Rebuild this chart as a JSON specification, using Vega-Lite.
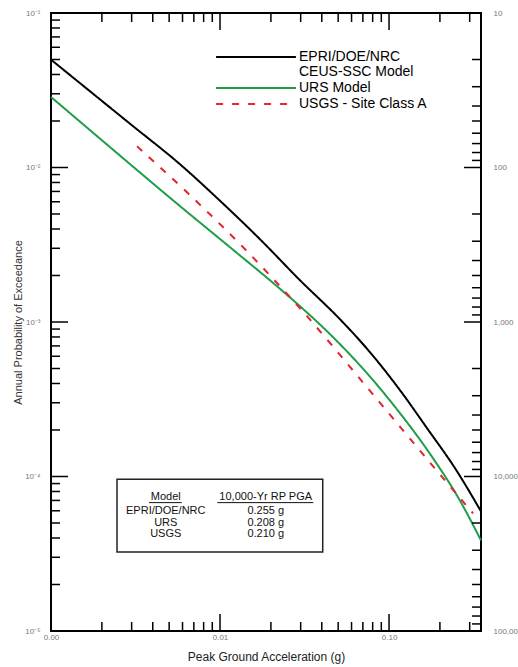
{
  "$schema": "https://vega.github.io/schema/vega-lite/v6.json",
  "width": 430,
  "height": 618,
  "autosize": "none",
  "padding": {"left": 51, "top": 13, "right": 37, "bottom": 36},
  "background": "white",
  "config": {
    "view": {"stroke": "black", "strokeWidth": 2},
    "font": "Liberation Sans",
    "style": {"guide-label": {"lineHeight": 15}},
    "axis": {"grid": false, "domain": false, "ticks": false, "tickSize": 0, "labelColor": "#777777", "labelFontSize": 8, "labelFont": "Liberation Sans", "labelFlush": false, "labelOverlap": false, "titleFont": "Liberation Sans", "titleFontWeight": "normal"}
  },
  "datasets": {
    "curves": [
      {"series": "EPRI/DOE/NRC CEUS-SSC Model", "pga": 0.001, "prob": 0.0499},
      {"series": "EPRI/DOE/NRC CEUS-SSC Model", "pga": 0.002934, "prob": 0.0192},
      {"series": "EPRI/DOE/NRC CEUS-SSC Model", "pga": 0.005799, "prob": 0.01049},
      {"series": "EPRI/DOE/NRC CEUS-SSC Model", "pga": 0.01, "prob": 0.006088},
      {"series": "EPRI/DOE/NRC CEUS-SSC Model", "pga": 0.01725, "prob": 0.00343},
      {"series": "EPRI/DOE/NRC CEUS-SSC Model", "pga": 0.02974, "prob": 0.001862},
      {"series": "EPRI/DOE/NRC CEUS-SSC Model", "pga": 0.05129, "prob": 0.001041},
      {"series": "EPRI/DOE/NRC CEUS-SSC Model", "pga": 0.0741, "prob": 0.000671},
      {"series": "EPRI/DOE/NRC CEUS-SSC Model", "pga": 0.1162, "prob": 0.0003614},
      {"series": "EPRI/DOE/NRC CEUS-SSC Model", "pga": 0.168, "prob": 0.0002051},
      {"series": "EPRI/DOE/NRC CEUS-SSC Model", "pga": 0.2458, "prob": 0.000113},
      {"series": "EPRI/DOE/NRC CEUS-SSC Model", "pga": 0.35, "prob": 0.0000595},
      {"series": "URS Model", "pga": 0.001, "prob": 0.0286},
      {"series": "URS Model", "pga": 0.00223, "prob": 0.01357},
      {"series": "URS Model", "pga": 0.00527, "prob": 0.006133},
      {"series": "URS Model", "pga": 0.01146, "prob": 0.003045},
      {"series": "URS Model", "pga": 0.02175, "prob": 0.001702},
      {"series": "URS Model", "pga": 0.02974, "prob": 0.001264},
      {"series": "URS Model", "pga": 0.04296, "prob": 0.000871},
      {"series": "URS Model", "pga": 0.0741, "prob": 0.0004656},
      {"series": "URS Model", "pga": 0.1162, "prob": 0.0002565},
      {"series": "URS Model", "pga": 0.1822, "prob": 0.0001311},
      {"series": "URS Model", "pga": 0.2561, "prob": 0.0000733},
      {"series": "URS Model", "pga": 0.35, "prob": 0.0000386},
      {"series": "USGS - Site Class A", "pga": 0.003228, "prob": 0.01372},
      {"series": "USGS - Site Class A", "pga": 0.006467, "prob": 0.006808},
      {"series": "USGS - Site Class A", "pga": 0.01445, "prob": 0.002868},
      {"series": "USGS - Site Class A", "pga": 0.02974, "prob": 0.001227},
      {"series": "USGS - Site Class A", "pga": 0.0741, "prob": 0.0003779},
      {"series": "USGS - Site Class A", "pga": 0.1162, "prob": 0.0002097},
      {"series": "USGS - Site Class A", "pga": 0.1822, "prob": 0.0001164},
      {"series": "USGS - Site Class A", "pga": 0.3141, "prob": 0.0000578}
    ],
    "table": [
      {"model": "EPRI/DOE/NRC", "pga": "0.255 g"},
      {"model": "URS", "pga": "0.208 g"},
      {"model": "USGS", "pga": "0.210 g"}
    ],
    "xticks": [
      {"v": 0.001, "kind": "major"}, {"v": 0.002, "kind": "minor"}, {"v": 0.003, "kind": "minor"}, {"v": 0.004, "kind": "minor"}, {"v": 0.005, "kind": "minor"}, {"v": 0.006, "kind": "minor"}, {"v": 0.007, "kind": "minor"}, {"v": 0.008, "kind": "minor"}, {"v": 0.009, "kind": "minor"},
      {"v": 0.01, "kind": "major"}, {"v": 0.02, "kind": "minor"}, {"v": 0.03, "kind": "minor"}, {"v": 0.04, "kind": "minor"}, {"v": 0.05, "kind": "minor"}, {"v": 0.06, "kind": "minor"}, {"v": 0.07, "kind": "minor"}, {"v": 0.08, "kind": "minor"}, {"v": 0.09, "kind": "minor"},
      {"v": 0.1, "kind": "major"}, {"v": 0.2, "kind": "minor"}, {"v": 0.3, "kind": "minor"}
    ],
    "yticks": [
      {"v": 0.00001, "kind": "major"}, {"v": 0.00002, "kind": "minor"}, {"v": 0.00003, "kind": "minor"}, {"v": 0.00004, "kind": "minor"}, {"v": 0.00005, "kind": "minor"}, {"v": 0.00006, "kind": "minor"}, {"v": 0.00007, "kind": "minor"}, {"v": 0.00008, "kind": "minor"}, {"v": 0.00009, "kind": "minor"},
      {"v": 0.0001, "kind": "major"}, {"v": 0.0002, "kind": "minor"}, {"v": 0.0003, "kind": "minor"}, {"v": 0.0004, "kind": "minor"}, {"v": 0.0005, "kind": "minor"}, {"v": 0.0006, "kind": "minor"}, {"v": 0.0007, "kind": "minor"}, {"v": 0.0008, "kind": "minor"}, {"v": 0.0009, "kind": "minor"},
      {"v": 0.001, "kind": "major"}, {"v": 0.002, "kind": "minor"}, {"v": 0.003, "kind": "minor"}, {"v": 0.004, "kind": "minor"}, {"v": 0.005, "kind": "minor"}, {"v": 0.006, "kind": "minor"}, {"v": 0.007, "kind": "minor"}, {"v": 0.008, "kind": "minor"}, {"v": 0.009, "kind": "minor"},
      {"v": 0.01, "kind": "major"}, {"v": 0.02, "kind": "minor"}, {"v": 0.03, "kind": "minor"}, {"v": 0.04, "kind": "minor"}, {"v": 0.05, "kind": "minor"}, {"v": 0.06, "kind": "minor"}, {"v": 0.07, "kind": "minor"}, {"v": 0.08, "kind": "minor"}, {"v": 0.09, "kind": "minor"},
      {"v": 0.1, "kind": "major"}
    ],
    "rpticks": [
      {"rp": 10, "p": 0.1, "kind": "major"}, {"rp": 20, "p": 0.05, "kind": "minor"}, {"rp": 30, "p": 0.0333333, "kind": "minor"}, {"rp": 40, "p": 0.025, "kind": "minor"}, {"rp": 50, "p": 0.02, "kind": "minor"}, {"rp": 60, "p": 0.0166667, "kind": "minor"}, {"rp": 70, "p": 0.0142857, "kind": "minor"}, {"rp": 80, "p": 0.0125, "kind": "minor"}, {"rp": 90, "p": 0.0111111, "kind": "minor"},
      {"rp": 100, "p": 0.01, "kind": "major"}, {"rp": 200, "p": 0.005, "kind": "minor"}, {"rp": 300, "p": 0.00333333, "kind": "minor"}, {"rp": 400, "p": 0.0025, "kind": "minor"}, {"rp": 500, "p": 0.002, "kind": "minor"}, {"rp": 600, "p": 0.00166667, "kind": "minor"}, {"rp": 700, "p": 0.00142857, "kind": "minor"}, {"rp": 800, "p": 0.00125, "kind": "minor"}, {"rp": 900, "p": 0.00111111, "kind": "minor"},
      {"rp": 1000, "p": 0.001, "kind": "major"}, {"rp": 2000, "p": 0.0005, "kind": "minor"}, {"rp": 3000, "p": 0.000333333, "kind": "minor"}, {"rp": 4000, "p": 0.00025, "kind": "minor"}, {"rp": 5000, "p": 0.0002, "kind": "minor"}, {"rp": 6000, "p": 0.000166667, "kind": "minor"}, {"rp": 7000, "p": 0.000142857, "kind": "minor"}, {"rp": 8000, "p": 0.000125, "kind": "minor"}, {"rp": 9000, "p": 0.000111111, "kind": "minor"},
      {"rp": 10000, "p": 0.0001, "kind": "major"}, {"rp": 20000, "p": 0.00005, "kind": "minor"}, {"rp": 30000, "p": 0.0000333333, "kind": "minor"}, {"rp": 40000, "p": 0.000025, "kind": "minor"}, {"rp": 50000, "p": 0.00002, "kind": "minor"}, {"rp": 60000, "p": 0.0000166667, "kind": "minor"}, {"rp": 70000, "p": 0.0000142857, "kind": "minor"}, {"rp": 80000, "p": 0.0000125, "kind": "minor"}, {"rp": 90000, "p": 0.0000111111, "kind": "minor"},
      {"rp": 100000, "p": 0.00001, "kind": "major"}
    ],
    "rp": [{"rp": 10}, {"rp": 100000}]
  },
  "layer": [
    {
      "layer": [
        {
          "data": {"name": "curves"},
          "mark": {"type": "line", "interpolate": "monotone", "strokeWidth": 2},
          "encoding": {
            "x": {
              "field": "pga", "type": "quantitative",
              "scale": {"type": "log", "domain": [0.001, 0.35], "nice": false},
              "axis": {
                "orient": "bottom",
                "values": [0.001, 0.01, 0.1],
                "labelExpr": "format(datum.value, '.2f')",
                "labelPadding": 2,
                "title": "Peak Ground Acceleration (g)",
                "titleFontSize": 12, "titleColor": "#222222", "titleY": 25, "titleBaseline": "middle"
              }
            },
            "y": {
              "field": "prob", "type": "quantitative",
              "scale": {"type": "log", "domain": [0.00001, 0.1], "nice": false},
              "axis": {
                "orient": "left",
                "values": [0.00001, 0.0001, 0.001, 0.01, 0.1],
                "labelExpr": "datum.value == 0.1 ? '10⁻¹' : datum.value == 0.01 ? '10⁻²' : datum.value == 0.001 ? '10⁻³' : datum.value == 0.0001 ? '10⁻⁴' : '10⁻⁵'",
                "labelPadding": 11,
                "title": "Annual Probability of Exceedance",
                "titleFontSize": 11, "titleColor": "#333333", "titleX": -33, "titleBaseline": "middle"
              }
            },
            "color": {
              "field": "series", "type": "nominal",
              "scale": {"domain": ["EPRI/DOE/NRC CEUS-SSC Model", "URS Model", "USGS - Site Class A"], "range": ["#000000", "#1f9d48", "#e3242b"]},
              "legend": {"title": null, "orient": "none", "legendX": 165, "legendY": 36, "padding": 0, "symbolType": "M-5.7,0H5.7", "symbolSize": 196, "symbolStrokeWidth": 2, "symbolOffset": 32, "labelOffset": 35, "labelFont": "Liberation Sans", "labelFontSize": 14, "labelColor": "#000000", "labelLimit": 300, "rowPadding": 1, "labelExpr": "datum.label == 'EPRI/DOE/NRC CEUS-SSC Model' ? ['EPRI/DOE/NRC', 'CEUS-SSC Model'] : datum.label"}
            },
            "strokeDash": {
              "field": "series", "type": "nominal",
              "scale": {"domain": ["EPRI/DOE/NRC CEUS-SSC Model", "URS Model", "USGS - Site Class A"], "range": [[1, 0], [1, 0], [7, 9]]},
              "legend": {"title": null, "orient": "none", "legendX": 165, "legendY": 36, "padding": 0, "symbolType": "M-5.7,0H5.7", "symbolSize": 196, "symbolStrokeWidth": 2, "symbolOffset": 32, "labelOffset": 35, "labelFont": "Liberation Sans", "labelFontSize": 14, "labelColor": "#000000", "labelLimit": 300, "rowPadding": 1, "labelExpr": "datum.label == 'EPRI/DOE/NRC CEUS-SSC Model' ? ['EPRI/DOE/NRC', 'CEUS-SSC Model'] : datum.label"}
            }
          }
        },
        {
          "data": {"name": "xticks"},
          "transform": [{"filter": "datum.kind == 'minor'"}],
          "mark": {"type": "rule", "color": "black", "strokeWidth": 1.5},
          "encoding": {
            "x": {"field": "v", "type": "quantitative", "title": "Peak Ground Acceleration (g)"},
            "y": {"datum": 0.00001, "type": "quantitative"},
            "y2": {"datum": 0.000011437}
          }
        },
        {
          "data": {"name": "xticks"},
          "transform": [{"filter": "datum.kind == 'major'"}],
          "mark": {"type": "rule", "color": "black", "strokeWidth": 1.5},
          "encoding": {
            "x": {"field": "v", "type": "quantitative", "title": "Peak Ground Acceleration (g)"},
            "y": {"datum": 0.00001, "type": "quantitative"},
            "y2": {"datum": 0.000012884}
          }
        },
        {
          "data": {"name": "xticks"},
          "transform": [{"filter": "datum.kind == 'minor'"}],
          "mark": {"type": "rule", "color": "black", "strokeWidth": 1.5},
          "encoding": {
            "x": {"field": "v", "type": "quantitative", "title": "Peak Ground Acceleration (g)"},
            "y": {"datum": 0.1, "type": "quantitative"},
            "y2": {"datum": 0.08744}
          }
        },
        {
          "data": {"name": "xticks"},
          "transform": [{"filter": "datum.kind == 'major'"}],
          "mark": {"type": "rule", "color": "black", "strokeWidth": 1.5},
          "encoding": {
            "x": {"field": "v", "type": "quantitative", "title": "Peak Ground Acceleration (g)"},
            "y": {"datum": 0.1, "type": "quantitative"},
            "y2": {"datum": 0.07762}
          }
        },
        {
          "data": {"name": "yticks"},
          "transform": [{"filter": "datum.kind == 'minor'"}],
          "mark": {"type": "rule", "color": "black", "strokeWidth": 1.5},
          "encoding": {
            "y": {"field": "v", "type": "quantitative", "title": "Annual Probability of Exceedance"},
            "x": {"datum": 0.001, "type": "quantitative"},
            "x2": {"datum": 0.0011304}
          }
        },
        {
          "data": {"name": "yticks"},
          "transform": [{"filter": "datum.kind == 'major'"}],
          "mark": {"type": "rule", "color": "black", "strokeWidth": 1.5},
          "encoding": {
            "y": {"field": "v", "type": "quantitative", "title": "Annual Probability of Exceedance"},
            "x": {"datum": 0.001, "type": "quantitative"},
            "x2": {"datum": 0.0012606}
          }
        },
        {
          "data": {"name": "rpticks"},
          "transform": [{"filter": "datum.kind == 'minor'"}],
          "mark": {"type": "rule", "color": "black", "strokeWidth": 1.5},
          "encoding": {
            "y": {"field": "p", "type": "quantitative", "title": "Annual Probability of Exceedance"},
            "x": {"datum": 0.35, "type": "quantitative"},
            "x2": {"datum": 0.30963}
          }
        },
        {
          "data": {"name": "rpticks"},
          "transform": [{"filter": "datum.kind == 'major'"}],
          "mark": {"type": "rule", "color": "black", "strokeWidth": 1.5},
          "encoding": {
            "y": {"field": "p", "type": "quantitative", "title": "Annual Probability of Exceedance"},
            "x": {"datum": 0.35, "type": "quantitative"},
            "x2": {"datum": 0.27765}
          }
        },
        {
          "data": {"values": [{}]},
          "mark": {"type": "rect", "fill": "white", "stroke": "#222222", "strokeWidth": 1.5},
          "encoding": {
            "x": {"datum": 0.002458, "type": "quantitative"},
            "x2": {"datum": 0.04052},
            "y": {"datum": 0.0000959, "type": "quantitative"},
            "y2": {"datum": 0.00003245}
          }
        },
        {
          "data": {"values": [{}]},
          "mark": {"type": "text", "text": "Model", "fontSize": 11, "color": "#111111", "align": "center", "baseline": "middle"},
          "encoding": {
            "x": {"datum": 0.004774, "type": "quantitative"},
            "y": {"datum": 0.0000733, "type": "quantitative"}
          }
        },
        {
          "data": {"values": [{}]},
          "mark": {"type": "text", "text": "10,000-Yr RP PGA", "fontSize": 11, "color": "#111111", "align": "center", "baseline": "middle"},
          "encoding": {
            "x": {"datum": 0.01864, "type": "quantitative"},
            "y": {"datum": 0.0000733, "type": "quantitative"}
          }
        },
        {
          "data": {"values": [{}]},
          "mark": {"type": "rule", "color": "#111111", "strokeWidth": 1},
          "encoding": {
            "x": {"datum": 0.003801, "type": "quantitative"},
            "x2": {"datum": 0.005935},
            "y": {"datum": 0.00006776, "type": "quantitative"}
          }
        },
        {
          "data": {"values": [{}]},
          "mark": {"type": "rule", "color": "#111111", "strokeWidth": 1},
          "encoding": {
            "x": {"datum": 0.009638, "type": "quantitative"},
            "x2": {"datum": 0.03566},
            "y": {"datum": 0.00006776, "type": "quantitative"}
          }
        },
        {
          "data": {"name": "table"},
          "transform": [{"filter": "datum.model == 'EPRI/DOE/NRC'"}],
          "mark": {"type": "text", "fontSize": 11, "color": "#111111", "align": "center", "baseline": "middle"},
          "encoding": {
            "x": {"datum": 0.004774, "type": "quantitative"},
            "y": {"datum": 0.00005977, "type": "quantitative"},
            "text": {"field": "model"}
          }
        },
        {
          "data": {"name": "table"},
          "transform": [{"filter": "datum.model == 'URS'"}],
          "mark": {"type": "text", "fontSize": 11, "color": "#111111", "align": "center", "baseline": "middle"},
          "encoding": {
            "x": {"datum": 0.004774, "type": "quantitative"},
            "y": {"datum": 0.00005, "type": "quantitative"},
            "text": {"field": "model"}
          }
        },
        {
          "data": {"name": "table"},
          "transform": [{"filter": "datum.model == 'USGS'"}],
          "mark": {"type": "text", "fontSize": 11, "color": "#111111", "align": "center", "baseline": "middle"},
          "encoding": {
            "x": {"datum": 0.004774, "type": "quantitative"},
            "y": {"datum": 0.0000427, "type": "quantitative"},
            "text": {"field": "model"}
          }
        },
        {
          "data": {"name": "table"},
          "transform": [{"filter": "datum.model == 'EPRI/DOE/NRC'"}],
          "mark": {"type": "text", "fontSize": 11, "color": "#111111", "align": "center", "baseline": "middle"},
          "encoding": {
            "x": {"datum": 0.01864, "type": "quantitative"},
            "y": {"datum": 0.00005977, "type": "quantitative"},
            "text": {"field": "pga"}
          }
        },
        {
          "data": {"name": "table"},
          "transform": [{"filter": "datum.model == 'URS'"}],
          "mark": {"type": "text", "fontSize": 11, "color": "#111111", "align": "center", "baseline": "middle"},
          "encoding": {
            "x": {"datum": 0.01864, "type": "quantitative"},
            "y": {"datum": 0.00005, "type": "quantitative"},
            "text": {"field": "pga"}
          }
        },
        {
          "data": {"name": "table"},
          "transform": [{"filter": "datum.model == 'USGS'"}],
          "mark": {"type": "text", "fontSize": 11, "color": "#111111", "align": "center", "baseline": "middle"},
          "encoding": {
            "x": {"datum": 0.01864, "type": "quantitative"},
            "y": {"datum": 0.0000427, "type": "quantitative"},
            "text": {"field": "pga"}
          }
        }
      ]
    },
    {
      "data": {"name": "rp"},
      "mark": {"type": "point", "opacity": 0},
      "encoding": {
        "x": {"datum": 0.01, "type": "quantitative"},
        "y": {
          "field": "rp", "type": "quantitative",
          "scale": {"type": "log", "domain": [10, 100000], "reverse": true, "nice": false},
          "axis": {
            "orient": "right",
            "values": [10, 100, 1000, 10000, 100000],
            "labelExpr": "format(datum.value, ',')",
            "labelPadding": 12,
            "labelAlign": "left",
            "title": null
          }
        }
      }
    }
  ],
  "resolve": {"scale": {"y": "independent"}}
}
